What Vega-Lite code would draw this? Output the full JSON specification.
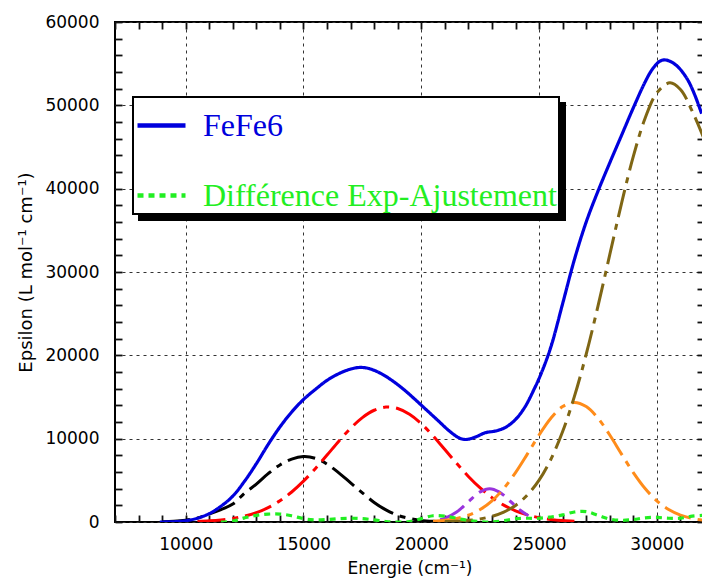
{
  "$schema": "https://vega.github.io/schema/vega-lite/v6.json",
  "width": 589,
  "height": 500,
  "autosize": {"type": "none"},
  "padding": {"left": 115, "top": 22, "right": 0, "bottom": 66},
  "background": "white",
  "config": {
    "view": {"stroke": "#000", "strokeWidth": 2},
    "axis": {"labelFont": "DejaVu Sans", "titleFont": "DejaVu Sans", "labelColor": "#000", "titleColor": "#000", "titleFontWeight": "normal"},
    "legend": {"orient": "none", "padding": 2, "strokeWidth": 2,
      "symbolType": "stroke", "symbolSize": 2304, "symbolStrokeWidth": 4.5,
      "labelFont": "Liberation Serif", "labelFontSize": 32, "labelOffset": 15, "labelLimit": 0, "rowPadding": 27}
  },
  "data": {"values": [
    {"s":"FeFe6","x":8900,"y":0},{"s":"FeFe6","x":9500,"y":30},{"s":"FeFe6","x":10000,"y":150},{"s":"FeFe6","x":10500,"y":450},{"s":"FeFe6","x":11000,"y":1000},{"s":"FeFe6","x":11500,"y":1900},{"s":"FeFe6","x":12000,"y":3100},{"s":"FeFe6","x":12500,"y":4900},{"s":"FeFe6","x":13000,"y":7000},{"s":"FeFe6","x":13500,"y":9300},{"s":"FeFe6","x":14000,"y":11400},{"s":"FeFe6","x":14500,"y":13200},{"s":"FeFe6","x":15000,"y":14700},{"s":"FeFe6","x":15500,"y":15900},{"s":"FeFe6","x":16000,"y":17000},{"s":"FeFe6","x":16500,"y":17800},{"s":"FeFe6","x":17000,"y":18350},{"s":"FeFe6","x":17400,"y":18550},{"s":"FeFe6","x":17800,"y":18400},{"s":"FeFe6","x":18300,"y":17800},{"s":"FeFe6","x":18800,"y":16900},{"s":"FeFe6","x":19300,"y":15800},{"s":"FeFe6","x":19700,"y":14800},{"s":"FeFe6","x":20200,"y":13500},{"s":"FeFe6","x":20700,"y":12200},{"s":"FeFe6","x":21200,"y":10900},{"s":"FeFe6","x":21600,"y":10100},{"s":"FeFe6","x":21900,"y":9900},{"s":"FeFe6","x":22300,"y":10200},{"s":"FeFe6","x":22700,"y":10700},{"s":"FeFe6","x":23200,"y":10950},{"s":"FeFe6","x":23600,"y":11400},{"s":"FeFe6","x":24000,"y":12300},{"s":"FeFe6","x":24400,"y":13800},{"s":"FeFe6","x":24800,"y":16000},{"s":"FeFe6","x":25100,"y":17900},{"s":"FeFe6","x":25500,"y":21000},{"s":"FeFe6","x":26000,"y":26200},{"s":"FeFe6","x":26500,"y":31500},{"s":"FeFe6","x":27000,"y":36000},{"s":"FeFe6","x":27500,"y":39700},{"s":"FeFe6","x":28000,"y":43100},{"s":"FeFe6","x":28500,"y":46400},{"s":"FeFe6","x":29000,"y":49700},{"s":"FeFe6","x":29500,"y":52800},{"s":"FeFe6","x":29800,"y":54300},{"s":"FeFe6","x":30100,"y":55250},{"s":"FeFe6","x":30300,"y":55450},{"s":"FeFe6","x":30550,"y":55300},{"s":"FeFe6","x":30900,"y":54600},{"s":"FeFe6","x":31300,"y":53100},{"s":"FeFe6","x":31600,"y":51300},{"s":"FeFe6","x":31900,"y":49000},
    {"s":"Différence Exp-Ajustement","x":11500,"y":0},{"s":"Différence Exp-Ajustement","x":12000,"y":100},{"s":"Différence Exp-Ajustement","x":12500,"y":500},{"s":"Différence Exp-Ajustement","x":13000,"y":800},{"s":"Différence Exp-Ajustement","x":13500,"y":950},{"s":"Différence Exp-Ajustement","x":14000,"y":950},{"s":"Différence Exp-Ajustement","x":14500,"y":750},{"s":"Différence Exp-Ajustement","x":15000,"y":400},{"s":"Différence Exp-Ajustement","x":15500,"y":250},{"s":"Différence Exp-Ajustement","x":16000,"y":300},{"s":"Différence Exp-Ajustement","x":16500,"y":400},{"s":"Différence Exp-Ajustement","x":17000,"y":450},{"s":"Différence Exp-Ajustement","x":17500,"y":400},{"s":"Différence Exp-Ajustement","x":18000,"y":250},{"s":"Différence Exp-Ajustement","x":18500,"y":50},{"s":"Différence Exp-Ajustement","x":19000,"y":0},{"s":"Différence Exp-Ajustement","x":19500,"y":50},{"s":"Différence Exp-Ajustement","x":20000,"y":400},{"s":"Différence Exp-Ajustement","x":20500,"y":750},{"s":"Différence Exp-Ajustement","x":21000,"y":700},{"s":"Différence Exp-Ajustement","x":21500,"y":450},{"s":"Différence Exp-Ajustement","x":22000,"y":200},{"s":"Différence Exp-Ajustement","x":22500,"y":50},{"s":"Différence Exp-Ajustement","x":23000,"y":0},{"s":"Différence Exp-Ajustement","x":23500,"y":150},{"s":"Différence Exp-Ajustement","x":24000,"y":400},{"s":"Différence Exp-Ajustement","x":24500,"y":450},{"s":"Différence Exp-Ajustement","x":25000,"y":450},{"s":"Différence Exp-Ajustement","x":25500,"y":600},{"s":"Différence Exp-Ajustement","x":26000,"y":850},{"s":"Différence Exp-Ajustement","x":26500,"y":1200},{"s":"Différence Exp-Ajustement","x":27000,"y":1250},{"s":"Différence Exp-Ajustement","x":27500,"y":800},{"s":"Différence Exp-Ajustement","x":28000,"y":350},{"s":"Différence Exp-Ajustement","x":28500,"y":200},{"s":"Différence Exp-Ajustement","x":29000,"y":300},{"s":"Différence Exp-Ajustement","x":29500,"y":500},{"s":"Différence Exp-Ajustement","x":30000,"y":550},{"s":"Différence Exp-Ajustement","x":30500,"y":450},{"s":"Différence Exp-Ajustement","x":31000,"y":450},{"s":"Différence Exp-Ajustement","x":31500,"y":700},{"s":"Différence Exp-Ajustement","x":32000,"y":800},
    {"s":"G1","x":9000,"y":40},{"s":"G1","x":9500,"y":90},{"s":"G1","x":10000,"y":220},{"s":"G1","x":10500,"y":480},{"s":"G1","x":11000,"y":960},{"s":"G1","x":11500,"y":1480},{"s":"G1","x":12000,"y":2150},{"s":"G1","x":12500,"y":3450},{"s":"G1","x":13000,"y":4550},{"s":"G1","x":13500,"y":5800},{"s":"G1","x":14000,"y":6850},{"s":"G1","x":14500,"y":7550},{"s":"G1","x":15000,"y":7850},{"s":"G1","x":15500,"y":7650},{"s":"G1","x":16000,"y":6950},{"s":"G1","x":16500,"y":5900},{"s":"G1","x":17000,"y":4700},{"s":"G1","x":17500,"y":3500},{"s":"G1","x":18000,"y":2350},{"s":"G1","x":18500,"y":1450},{"s":"G1","x":19000,"y":800},{"s":"G1","x":19500,"y":420},{"s":"G1","x":20000,"y":190},{"s":"G1","x":20500,"y":80},{"s":"G1","x":21000,"y":30},
    {"s":"G2","x":10500,"y":70},{"s":"G2","x":11000,"y":140},{"s":"G2","x":11500,"y":250},{"s":"G2","x":12000,"y":420},{"s":"G2","x":12500,"y":700},{"s":"G2","x":13000,"y":1120},{"s":"G2","x":13500,"y":1720},{"s":"G2","x":14000,"y":2540},{"s":"G2","x":14500,"y":3600},{"s":"G2","x":15000,"y":4900},{"s":"G2","x":15500,"y":6400},{"s":"G2","x":16000,"y":8030},{"s":"G2","x":16500,"y":9700},{"s":"G2","x":17000,"y":11240},{"s":"G2","x":17500,"y":12530},{"s":"G2","x":18000,"y":13410},{"s":"G2","x":18500,"y":13790},{"s":"G2","x":19000,"y":13620},{"s":"G2","x":19500,"y":12930},{"s":"G2","x":20000,"y":11800},{"s":"G2","x":20500,"y":10340},{"s":"G2","x":21000,"y":8700},{"s":"G2","x":21500,"y":7040},{"s":"G2","x":22000,"y":5470},{"s":"G2","x":22500,"y":4090},{"s":"G2","x":23000,"y":2930},{"s":"G2","x":23500,"y":2020},{"s":"G2","x":24000,"y":1340},{"s":"G2","x":24500,"y":850},{"s":"G2","x":25000,"y":520},{"s":"G2","x":25500,"y":310},{"s":"G2","x":26000,"y":170},{"s":"G2","x":26500,"y":90},
    {"s":"G3","x":20800,"y":260},{"s":"G3","x":21000,"y":430},{"s":"G3","x":21500,"y":1190},{"s":"G3","x":22000,"y":2430},{"s":"G3","x":22500,"y":3620},{"s":"G3","x":22900,"y":4000},{"s":"G3","x":23300,"y":3620},{"s":"G3","x":23800,"y":2430},{"s":"G3","x":24200,"y":1410},{"s":"G3","x":24550,"y":750},
    {"s":"G4","x":20500,"y":90},{"s":"G4","x":21000,"y":200},{"s":"G4","x":21500,"y":420},{"s":"G4","x":22000,"y":820},{"s":"G4","x":22500,"y":1490},{"s":"G4","x":23000,"y":2540},{"s":"G4","x":23500,"y":4020},{"s":"G4","x":24000,"y":5930},{"s":"G4","x":24500,"y":8150},{"s":"G4","x":25000,"y":10440},{"s":"G4","x":25500,"y":12460},{"s":"G4","x":26000,"y":13850},{"s":"G4","x":26500,"y":14350},{"s":"G4","x":27000,"y":13850},{"s":"G4","x":27500,"y":12460},{"s":"G4","x":28000,"y":10440},{"s":"G4","x":28500,"y":8150},{"s":"G4","x":29000,"y":5930},{"s":"G4","x":29500,"y":4020},{"s":"G4","x":30000,"y":2540},{"s":"G4","x":30500,"y":1490},{"s":"G4","x":31000,"y":820},{"s":"G4","x":31500,"y":420},{"s":"G4","x":32000,"y":200},
    {"s":"G5","x":21000,"y":50},{"s":"G5","x":21500,"y":100},{"s":"G5","x":22000,"y":200},{"s":"G5","x":22500,"y":370},{"s":"G5","x":23000,"y":680},{"s":"G5","x":23500,"y":1190},{"s":"G5","x":24000,"y":1990},{"s":"G5","x":24500,"y":3230},{"s":"G5","x":25000,"y":5020},{"s":"G5","x":25500,"y":7520},{"s":"G5","x":26000,"y":10860},{"s":"G5","x":26500,"y":15070},{"s":"G5","x":27000,"y":20130},{"s":"G5","x":27500,"y":25910},{"s":"G5","x":28000,"y":32080},{"s":"G5","x":28500,"y":38240},{"s":"G5","x":29000,"y":43870},{"s":"G5","x":29500,"y":48450},{"s":"G5","x":30000,"y":51500},{"s":"G5","x":30550,"y":52700},{"s":"G5","x":31000,"y":51900},{"s":"G5","x":31500,"y":49300},{"s":"G5","x":32000,"y":46000}
  ]},
  "encoding": {
    "color": {"field": "s", "type": "nominal",
      "scale": {"domain": ["FeFe6", "Différence Exp-Ajustement", "G1", "G2", "G3", "G4", "G5"], "range": ["#0000dd", "#22ee22", "#000000", "#ff0000", "#9933dd", "#ff8c1a", "#7f6614"]},
      "legend": {"values": ["FeFe6", "Différence Exp-Ajustement"], "title": null, "legendX": 18, "legendY": 75, "fillColor": "white", "strokeColor": "#000", "zindex": 2,
        "encode": {"labels": {"update": {"fill": {"scale": "color", "field": "value"}}}}}},
    "strokeDash": {"field": "s", "type": "nominal",
      "scale": {"domain": ["FeFe6", "Différence Exp-Ajustement", "G1", "G2", "G3", "G4", "G5"], "range": [[1, 0], [6, 5], [28, 7, 6, 7], [28, 7, 6, 7], [28, 7, 6, 7], [28, 7, 6, 7], [28, 7, 6, 7]]},
      "legend": {"values": ["FeFe6", "Différence Exp-Ajustement"], "title": null, "legendX": 18, "legendY": 75, "fillColor": "white", "strokeColor": "#000", "zindex": 2}},
    "opacity": {"field": "s", "type": "nominal",
      "scale": {"type": "ordinal", "domain": ["FeFe6", "Différence Exp-Ajustement"], "range": [1, 1]},
      "legend": {"values": ["FeFe6", "Différence Exp-Ajustement"], "title": null, "legendX": 24, "legendY": 81, "fillColor": "#000", "strokeColor": "#000", "zindex": 1,
        "symbolStrokeColor": "#000", "symbolFillColor": "#000", "labelColor": "#000"}}
  },
  "layer": [
    {
      "transform": [{"filter": "datum.s === 'G1' || datum.s === 'G2' || datum.s === 'G3'"}],
      "mark": {"type": "line", "strokeWidth": 3, "interpolate": "catmull-rom", "clip": true},
      "encoding": {
        "x": {"field": "x", "type": "quantitative", "scale": {"domain": [7000, 32000], "nice": false, "zero": false},
          "axis": {"orient": "bottom", "values": [10000, 15000, 20000, 25000, 30000],
            "format": "d", "labelFontSize": 17, "labelPadding": 22, "labelBaseline": "middle",
            "ticks": false, "domain": false,
            "grid": true, "gridColor": "#333", "gridDash": [3, 4], "gridWidth": 1,
            "title": "Energie (cm⁻¹)", "titleFontSize": 17, "titlePadding": 8}},
        "y": {"field": "y", "type": "quantitative", "scale": {"domain": [0, 60000], "nice": false},
          "axis": {"orient": "left", "values": [0, 10000, 20000, 30000, 40000, 50000, 60000],
            "format": "d", "labelFontSize": 17, "labelPadding": 16,
            "ticks": false, "domain": false,
            "grid": true, "gridColor": "#333", "gridDash": [3, 4], "gridWidth": 1,
            "title": "Epsilon (L mol⁻¹ cm⁻¹)", "titleFontSize": 18, "titlePadding": 9}}
      }
    },
    {
      "transform": [{"filter": "datum.s === 'G4' || datum.s === 'G5'"}],
      "mark": {"type": "line", "strokeWidth": 3, "interpolate": "catmull-rom", "clip": true},
      "encoding": {
        "x": {"field": "x", "type": "quantitative",
          "axis": {"orient": "bottom", "offset": -7, "values": [7000,8000,9000,10000,11000,12000,13000,14000,15000,16000,17000,18000,19000,20000,21000,22000,23000,24000,25000,26000,27000,28000,29000,30000,31000,32000],
            "labels": false, "title": null, "grid": false, "domain": false, "tickColor": "#111", "tickWidth": 1.8, "tickSize": 7}},
        "y": {"field": "y", "type": "quantitative",
          "axis": {"orient": "left", "offset": -7, "values": [0,2000,4000,6000,8000,10000,12000,14000,16000,18000,20000,22000,24000,26000,28000,30000,32000,34000,36000,38000,40000,42000,44000,46000,48000,50000,52000,54000,56000,58000,60000],
            "labels": false, "title": null, "grid": false, "domain": false, "tickColor": "#111", "tickWidth": 1.8, "tickSize": 7}}
      }
    },
    {
      "transform": [{"filter": "datum.s === 'FeFe6' || datum.s === 'Différence Exp-Ajustement'"}],
      "mark": {"type": "line", "strokeWidth": 3.2, "interpolate": "catmull-rom", "clip": true},
      "encoding": {
        "x": {"field": "x", "type": "quantitative",
          "axis": {"orient": "top", "offset": -7, "values": [7000,8000,9000,10000,11000,12000,13000,14000,15000,16000,17000,18000,19000,20000,21000,22000,23000,24000,25000,26000,27000,28000,29000,30000,31000,32000],
            "labels": false, "title": null, "grid": false, "domain": false, "tickColor": "#111", "tickWidth": 1.8, "tickSize": 7}},
        "y": {"field": "y", "type": "quantitative",
          "axis": {"orient": "right", "offset": -7, "values": [0,2000,4000,6000,8000,10000,12000,14000,16000,18000,20000,22000,24000,26000,28000,30000,32000,34000,36000,38000,40000,42000,44000,46000,48000,50000,52000,54000,56000,58000,60000],
            "labels": false, "title": null, "grid": false, "domain": false, "tickColor": "#111", "tickWidth": 1.8, "tickSize": 7}}
      }
    }
  ],
  "resolve": {"axis": {"x": "independent", "y": "independent"}}
}
